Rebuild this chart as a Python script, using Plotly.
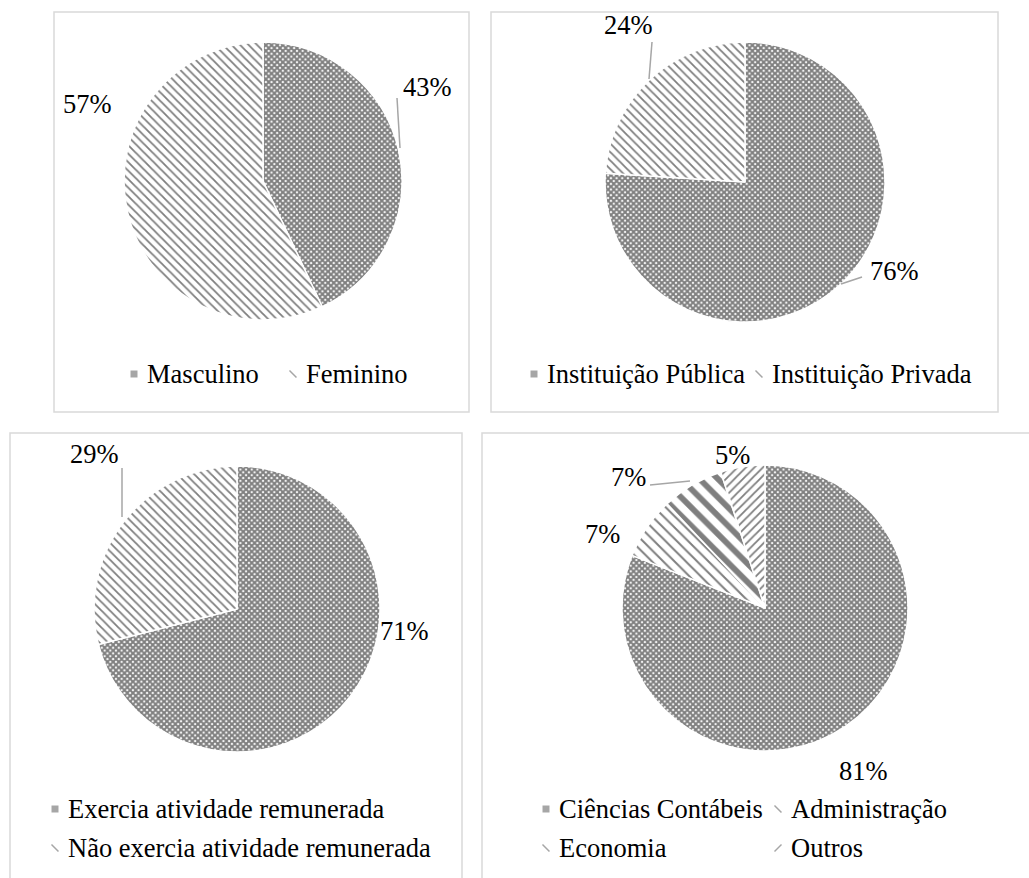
import plotly.graph_objects as go

W, H = 1029, 878

# ---- data -------------------------------------------------------------
genero_labels = ["Masculino", "Feminino"]
genero_values = [43, 57]

instituicao_labels = ["Instituição Pública", "Instituição Privada"]
instituicao_values = [76, 24]

atividade_labels = ["Exercia atividade remunerada", "Não exercia atividade remunerada"]
atividade_values = [71, 29]

curso_labels = ["Ciências Contábeis", "Administração", "Economia", "Outros"]
curso_values = [81, 7, 7, 5]

# ---- styling ----------------------------------------------------------
GRAY = "#7f7f7f"
FONT = "Liberation Serif"
FS = 26.5

CHECK = dict(shape="x", size=4, solidity=0.75, fgcolor=GRAY, bgcolor="white")
DIAG = dict(shape="\\", size=6, solidity=0.3, fgcolor=GRAY, bgcolor="white")
DIAG_WIDE = dict(shape="\\", size=8, solidity=0.25, fgcolor=GRAY, bgcolor="white")
DIAG_BOLD = dict(shape="\\", size=13, solidity=0.45, fgcolor=GRAY, bgcolor="white")
DIAG_FWD = dict(shape="/", size=6, solidity=0.3, fgcolor=GRAY, bgcolor="white")


def px(x):
    return x / W


def py(y):
    return 1 - y / H


def pie(labels, values, cx, cy, r, patterns):
    return go.Pie(
        labels=labels,
        values=values,
        sort=False,
        direction="clockwise",
        rotation=0,
        textinfo="none",
        hoverinfo="label+percent",
        showlegend=False,
        domain=dict(x=[px(cx - r), px(cx + r)], y=[py(cy + r), py(cy - r)]),
        marker=dict(
            colors=["white"] * len(values),
            line=dict(color="white", width=1.5),
            pattern=dict(
                shape=[p["shape"] for p in patterns],
                size=[p["size"] for p in patterns],
                solidity=[p["solidity"] for p in patterns],
                fgcolor=[p["fgcolor"] for p in patterns],
                bgcolor=[p["bgcolor"] for p in patterns],
                fillmode="replace",
            ),
        ),
    )


fig = go.Figure()
fig.add_trace(pie(genero_labels, genero_values, 263, 181, 139, [CHECK, DIAG]))
fig.add_trace(pie(instituicao_labels, instituicao_values, 745, 182, 140, [CHECK, DIAG]))
fig.add_trace(pie(atividade_labels, atividade_values, 237, 609, 143, [CHECK, DIAG]))
fig.add_trace(pie(curso_labels, curso_values, 765, 608, 143, [CHECK, DIAG_WIDE, DIAG_BOLD, DIAG_FWD]))

shapes = []
annotations = []

# panel frames
for x0, y0, x1, y1 in [(54, 12, 469, 412), (491, 12, 998, 412),
                       (10, 433, 462, 900), (482, 433, 1040, 900)]:
    shapes.append(dict(type="rect", xref="paper", yref="paper",
                       x0=px(x0), x1=px(x1), y0=py(y1), y1=py(y0),
                       line=dict(color="#d9d9d9", width=1.5), fillcolor="rgba(0,0,0,0)"))


def label(text, x, y):
    annotations.append(dict(text=text, x=px(x), y=py(y), xref="paper", yref="paper",
                            showarrow=False, xanchor="center", yanchor="middle",
                            font=dict(family=FONT, size=FS, color="black")))


def leader(points):
    path = "M " + " L ".join(f"{px(x)},{py(y)}" for x, y in points)
    shapes.append(dict(type="path", xref="paper", yref="paper", path=path,
                       line=dict(color="#a6a6a6", width=1.5)))


# slice value labels
label(f"{genero_values[0]}%", 427, 87)
label(f"{genero_values[1]}%", 87, 104)
leader([(397, 98), (400, 148)])

label(f"{instituicao_values[0]}%", 894, 271)
label(f"{instituicao_values[1]}%", 628, 25)
leader([(652, 42), (649, 79)])
leader([(841, 284), (862, 277)])

label(f"{atividade_values[0]}%", 404, 631)
label(f"{atividade_values[1]}%", 94, 454)
leader([(122, 468), (122, 517)])

label(f"{curso_values[0]}%", 863, 771)
label(f"{curso_values[1]}%", 602, 534)
label(f"{curso_values[2]}%", 628, 477)
label(f"{curso_values[3]}%", 732, 455)
leader([(650, 485), (690, 481)])


# legends: small swatch + text
def swatch(x, y, kind):
    if kind == "check":
        shapes.append(dict(type="rect", xref="paper", yref="paper",
                           x0=px(x - 3.5), x1=px(x + 3.5), y0=py(y + 3.5), y1=py(y - 3.5),
                           line=dict(width=0), fillcolor="#a6a6a6"))
    elif kind == "fwd":
        shapes.append(dict(type="line", xref="paper", yref="paper",
                           x0=px(x - 3.5), x1=px(x + 3.5), y0=py(y + 3.5), y1=py(y - 3.5),
                           line=dict(color="#a6a6a6", width=1.5)))
    else:
        shapes.append(dict(type="line", xref="paper", yref="paper",
                           x0=px(x - 3.5), x1=px(x + 3.5), y0=py(y - 3.5), y1=py(y + 3.5),
                           line=dict(color="#a6a6a6", width=1.5)))


def legend_item(text, x, y, kind):
    swatch(x, y, kind)
    annotations.append(dict(text=text, x=px(x + 11), y=py(y), xref="paper", yref="paper",
                            showarrow=False, xanchor="left", yanchor="middle",
                            font=dict(family=FONT, size=FS, color="black")))


legend_item(genero_labels[0], 134, 374, "check")
legend_item(genero_labels[1], 293, 374, "diag")

legend_item(instituicao_labels[0], 534, 374, "check")
legend_item(instituicao_labels[1], 759, 374, "diag")

legend_item(atividade_labels[0], 55, 809, "check")
legend_item(atividade_labels[1], 55, 848, "diag")

legend_item(curso_labels[0], 546, 809, "check")
legend_item(curso_labels[1], 778, 809, "diag")
legend_item(curso_labels[2], 546, 848, "diag")
legend_item(curso_labels[3], 778, 848, "fwd")

fig.update_layout(
    width=W, height=H,
    margin=dict(l=0, r=0, t=0, b=0),
    paper_bgcolor="white",
    plot_bgcolor="white",
    font=dict(family=FONT),
    shapes=shapes,
    annotations=annotations,
)

fig.write_html("out.html")
